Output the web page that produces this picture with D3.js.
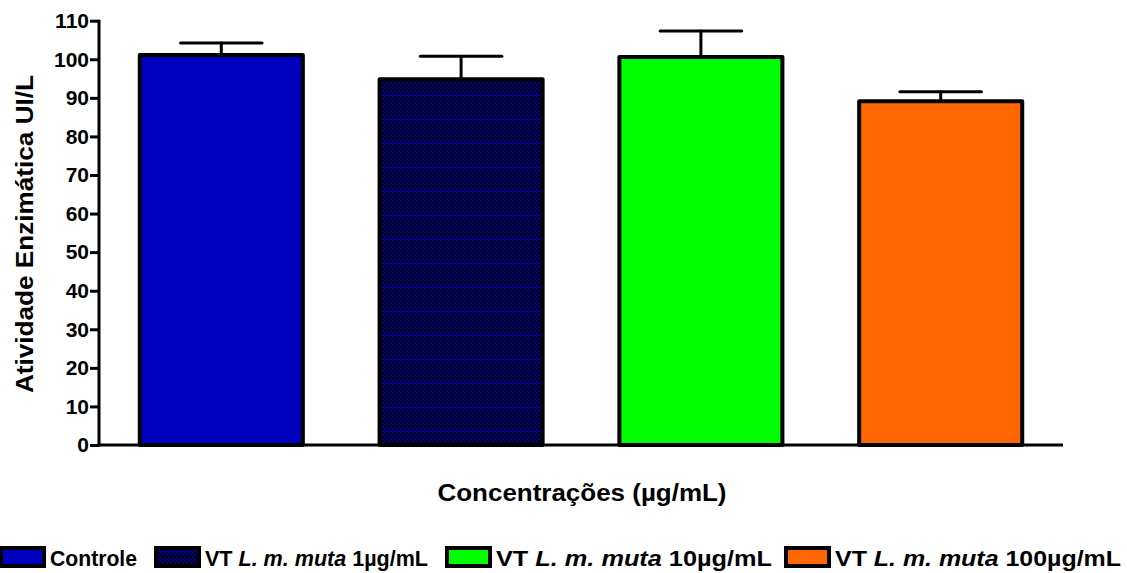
<!DOCTYPE html>
<html>
<head>
<meta charset="utf-8">
<script src="https://cdn.jsdelivr.net/npm/d3@7"></script>
<style>
  html, body { margin: 0; padding: 0; background: #fff; }
  svg text { font-family: "Liberation Sans", Arial, Helvetica, sans-serif; font-weight: bold; fill: #000; }
</style>
</head>
<body>
<svg id="chart" width="1127" height="573"></svg>
<script>
// Enzyme activity per treatment group (mean + SEM)
const categories = ["Controle", "VT 1µg/mL", "VT 10µg/mL", "VT 100µg/mL"];
const means = [101.1, 94.8, 100.6, 89.1];
const errors = [3.1, 6.0, 6.7, 2.5];
const yTicks = [0, 10, 20, 30, 40, 50, 60, 70, 80, 90, 100, 110];
const legendLabels = [
  [{ t: "Controle", i: false }],
  [{ t: "VT ", i: false }, { t: "L. m. muta", i: true }, { t: " 1µg/mL", i: false }],
  [{ t: "VT ", i: false }, { t: "L. m. muta", i: true }, { t: " 10µg/mL", i: false }],
  [{ t: "VT ", i: false }, { t: "L. m. muta", i: true }, { t: " 100µg/mL", i: false }]
];

const svg = d3.select("#chart");
const defs = svg.append("defs");

// Checkerboard fill (black / dark blue) with faint horizontal blue lines
const pat = defs.append("pattern")
  .attr("id", "check")
  .attr("patternUnits", "userSpaceOnUse")
  .attr("width", 4).attr("height", 24);
pat.append("rect").attr("width", 4).attr("height", 24).attr("fill", "#000");
for (let yy = 0; yy < 24; yy += 4) {
  pat.append("rect").attr("x", 0).attr("y", yy).attr("width", 2).attr("height", 2).attr("fill", "#00008c");
  pat.append("rect").attr("x", 2).attr("y", yy + 2).attr("width", 2).attr("height", 2).attr("fill", "#00008c");
}
pat.append("rect").attr("x", 0).attr("y", 23).attr("width", 4).attr("height", 1).attr("fill", "#0000a8");

const fills = ["#0000c0", "url(#check)", "#00ff00", "#ff6600"];

const plotLeft = 99, plotRight = 1063, plotTop = 20.7, plotBottom = 445;

const x = d3.scaleBand().domain(categories).range([plotLeft, plotRight]).paddingInner(0.32).paddingOuter(0.17);
const y = d3.scaleLinear().domain([0, 110]).range([plotBottom, plotTop]);

// Bars
svg.append("g").selectAll("rect")
  .data(categories)
  .join("rect")
  .attr("x", d => x(d))
  .attr("y", (d, i) => y(means[i]))
  .attr("width", x.bandwidth())
  .attr("height", (d, i) => y(0) - y(means[i]))
  .attr("fill", (d, i) => fills[i])
  .attr("stroke", "#000")
  .attr("stroke-width", 4)
  .attr("stroke-linejoin", "round");

// Error bars (upper only)
const eb = svg.append("g").attr("stroke", "#000").attr("stroke-width", 3).attr("stroke-linecap", "round");
categories.forEach((c, i) => {
  const cx = x(c) + x.bandwidth() / 2;
  const capHalf = x.bandwidth() * 0.25;
  eb.append("line").attr("x1", cx).attr("x2", cx).attr("y1", y(means[i])).attr("y2", y(means[i] + errors[i]));
  eb.append("line").attr("x1", cx - capHalf).attr("x2", cx + capHalf)
    .attr("y1", y(means[i] + errors[i])).attr("y2", y(means[i] + errors[i]));
});

// Y axis
const yAxis = svg.append("g")
  .attr("transform", `translate(${plotLeft},0)`)
  .call(d3.axisLeft(y).tickValues(yTicks).tickSize(9).tickPadding(1));
yAxis.select(".domain").attr("stroke-width", 3).attr("d", `M0,${plotBottom + 1.5}V${plotTop - 1}`);
yAxis.selectAll(".tick line").attr("stroke-width", 3);
yAxis.selectAll(".tick text").attr("font-size", 21).attr("font-weight", "bold")
  .attr("font-family", "Liberation Sans, Arial, sans-serif").attr("fill", "#000");

// X axis baseline
svg.append("line").attr("x1", plotLeft).attr("x2", plotRight).attr("y1", plotBottom).attr("y2", plotBottom)
  .attr("stroke", "#000").attr("stroke-width", 3);

// Axis titles
svg.append("text")
  .attr("transform", `translate(33,234) rotate(-90)`)
  .attr("text-anchor", "middle")
  .attr("font-size", 23)
  .attr("textLength", 318)
  .attr("lengthAdjust", "spacingAndGlyphs")
  .text("Atividade Enzimática UI/L");

svg.append("text")
  .attr("x", 582).attr("y", 501)
  .attr("text-anchor", "middle")
  .attr("font-size", 23)
  .attr("textLength", 289)
  .attr("lengthAdjust", "spacingAndGlyphs")
  .text("Concentrações (µg/mL)");

// Legend
const legendX = [1, 156, 447, 786];
const legendW = [87, 223, 276, 286];
const lg = svg.append("g");
legendLabels.forEach((parts, i) => {
  lg.append("rect")
    .attr("x", legendX[i]).attr("y", 548).attr("width", 43).attr("height", 18)
    .attr("fill", fills[i]).attr("stroke", "#000").attr("stroke-width", 4);
  const t = lg.append("text").attr("x", legendX[i] + 49).attr("y", 566).attr("font-size", 22)
    .attr("textLength", legendW[i]).attr("lengthAdjust", "spacingAndGlyphs");
  parts.forEach(p => {
    t.append("tspan").attr("font-style", p.i ? "italic" : "normal").text(p.t);
  });
});
</script>
</body>
</html>
